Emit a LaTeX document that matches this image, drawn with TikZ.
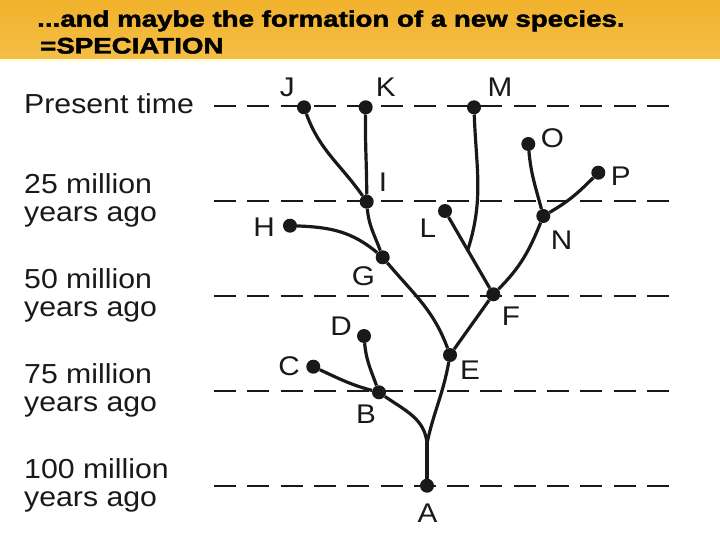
\documentclass[tikz,border=0pt]{standalone}
\usepackage{fontspec}
\setmainfont{Liberation Sans}
\newfontfamily\labfont{Liberation Sans}[FakeStretch=1.1]
\newfontfamily\titlefont{Liberation Sans}[FakeStretch=1.23,FakeBold=2]
\usetikzlibrary{calc}
\definecolor{barc}{RGB}{241,178,44}
\definecolor{barlight}{RGB}{244,190,70}
\definecolor{ink}{RGB}{25,25,25}
\definecolor{paleband}{RGB}{255,251,225}
\begin{document}
\begin{tikzpicture}[x=1pt,y=-1pt,
  dot/.style={circle,fill=ink,inner sep=0pt,minimum size=14pt},
  lbl/.style={inner sep=0pt,text=ink,font=\labfont\fontsize{27}{27}\selectfont},
  tlbl/.style={inner sep=0pt,anchor=base west,text=ink,font=\labfont\fontsize{27.5}{28}\selectfont},
  timeline/.style={draw=ink,line width=2pt,dash pattern=on 22pt off 11.3pt},
  branch/.style={draw=ink,line width=3.2pt},
  ttl/.style={inner sep=0pt,anchor=base west,text=black,font=\titlefont\bfseries\fontsize{22.5}{23}\selectfont}]

\useasboundingbox (0,0) rectangle (720,540);
\fill[white] (0,0) rectangle (720,540);
\shade[top color=barc,bottom color=barlight] (0,0) rectangle (720,59);
\fill[paleband] (0,59) rectangle (720,62);

% title
\node[ttl] (t1) at (37,26.7) {...and maybe the formation of a new species.};
\node[ttl] (t2) at (40,53.5) {=SPECIATION};

% time lines
\foreach \yy in {106.5,201.3,296,390.7,485.7}
  \draw[timeline] (214,\yy) -- (670,\yy);

% time labels
\node[tlbl] (tp) at (24,113.3) {Present time};
\node[tlbl] (t25a) at (24,193.3) {25 million};
\node[tlbl] (t25b) at (24,221.7) {years ago};
\node[tlbl] (t50a) at (24,288.3) {50 million};
\node[tlbl] (t50b) at (24,316.7) {years ago};
\node[tlbl] (t75a) at (24,383.3) {75 million};
\node[tlbl] (t75b) at (24,411.7) {years ago};
\node[tlbl] (t100a) at (24,478.3) {100 million};
\node[tlbl] (t100b) at (24,506.7) {years ago};

% dots
\node[dot] (A) at (427,485.7) {};
\node[dot] (B) at (379,392.3) {};
\node[dot] (C) at (313.3,366.7) {};
\node[dot] (D) at (364,336) {};
\node[dot] (E) at (450,355) {};
\node[dot] (F) at (493.3,294.3) {};
\node[dot] (G) at (382.7,257.3) {};
\node[dot] (H) at (290,225.7) {};
\node[dot] (I) at (366.7,201.7) {};
\node[dot] (J) at (304,107.3) {};
\node[dot] (K) at (365.7,107.3) {};
\node[dot] (L) at (445,211) {};
\node[dot] (M) at (474,107.3) {};
\node[dot] (N) at (543.3,216) {};
\node[dot] (O) at (528.3,144) {};
\node[dot] (P) at (598.3,172.7) {};

\coordinate (fk) at (427,443.3);
\coordinate (mj) at ($(F)!0.53!(L)$);

% branches
\draw[branch] (A) -- (fk);
\draw[branch] (fk) to[out=95,in=-35] (B);
\draw[branch] (fk) to[out=78,in=-100] (E);
\draw[branch] (B) to[out=165,in=-25] (C);
\draw[branch] (B) to[out=110,in=-85] (D);
\draw[branch] (E) to[out=110,in=-50] (G);
\draw[branch] (E) -- (F);
\draw[branch] (G) to[out=110,in=-85] (I);
\draw[branch] (H) to[out=-2,in=140] (G);
\draw[branch] (I) to[out=125,in=-70] (J);
\draw[branch] (I) to[out=90,in=-91] (K);
\draw[branch] (F) -- (L);
\draw[branch] (mj) to[out=72,in=-88] (M);
\draw[branch] (F) to[out=45,in=-112] (N);
\draw[branch] (N) to[out=105,in=-85] (O);
\draw[branch] (N) to[out=30,in=-135] (P);

% letters
\node[lbl] (lA) at (427.5,513.3) {A};
\node[lbl] (lB) at (366,414) {B};
\node[lbl] (lC) at (289,366) {C};
\node[lbl] (lD) at (341,326.5) {D};
\node[lbl] (lE) at (470,370) {E};
\node[lbl] (lF) at (511,315.8) {F};
\node[lbl] (lG) at (363.3,276.7) {G};
\node[lbl] (lH) at (264.2,227.5) {H};
\node[lbl] (lI) at (383,182.5) {I};
\node[lbl] (lJ) at (287.3,87.5) {J};
\node[lbl] (lK) at (385.8,87.5) {K};
\node[lbl] (lL) at (427.8,228.3) {L};
\node[lbl] (lM) at (500,87.5) {M};
\node[lbl] (lN) at (561.7,240) {N};
\node[lbl] (lO) at (552.5,138.3) {O};
\node[lbl] (lP) at (620.8,175.8) {P};
\end{tikzpicture}
\end{document}
